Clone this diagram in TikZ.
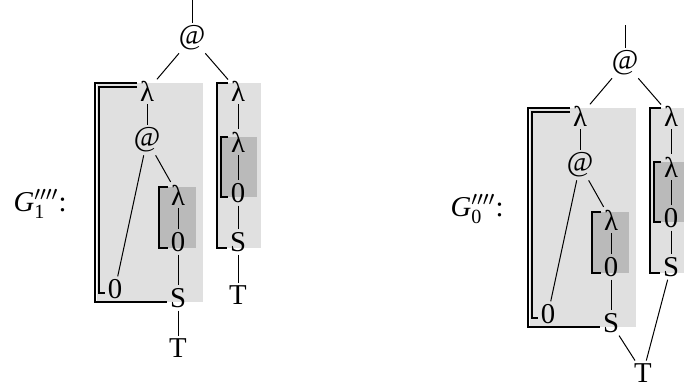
\documentclass[tikz,border=0pt]{standalone}
\usepackage{amsmath}
\usepackage{fontspec}
\setmainfont{Liberation Serif}
\usepackage{tikz}

\tikzset{
  sym/.style={inner sep=1pt,font=\fontsize{11.5}{13}\selectfont},
  lab/.style={anchor=base west,inner sep=0pt,font=\fontsize{11.5}{13}\selectfont},
  edge/.style={line width=0.4pt},
  bind/.style={line width=0.5pt},
  lightbox/.style={fill=black!12},
  darkbox/.style={fill=black!27}
}

\begin{document}
\begin{tikzpicture}[x=0.4pt,y=-0.4pt]
  \useasboundingbox (0,0) rectangle (684,387);

  % Labels
  \node[lab] (gone) at (13,211) {\textit{G}${}^{\prime\prime\prime\prime}_{\text{1}}$:};
  \node[lab] (gzero) at (450,216) {\textit{G}${}^{\prime\prime\prime\prime}_{\text{0}}$:};

  % Graph G1
  % Scopes
  \fill[lightbox] (97,83) rectangle (203,302);
  \fill[lightbox] (217,83) rectangle (261,248);
  \fill[darkbox] (159,187) rectangle (196,248);
  \fill[darkbox] (221,137) rectangle (257,197);

  % Nodes
  \coordinate (root) at (192,0);
  \node[sym] (app) at (192,38) {@};
  \node[sym] (lamA) at (147,91) {λ};
  \node[sym] (lamB) at (238,91) {λ};
  \node[sym] (app2) at (147,140) {@};
  \node[sym] (lamC) at (178,195) {λ};
  \node[sym] (zeroC) at (178,242) {0};
  \node[sym] (sucC) at (178,298) {S};
  \node[sym] (topC) at (178,348) {T};
  \node[sym] (zeroA) at (115,289) {0};
  \node[sym] (lamD) at (238,142) {λ};
  \node[sym] (zeroD) at (238,193) {0};
  \node[sym] (sucD) at (238,242) {S};
  \node[sym] (topD) at (238,295) {T};

  % Edges
  \draw[edge] (root) -- (app);
  \draw[edge] (app) -- (lamA);
  \draw[edge] (app) -- (lamB);
  \draw[edge] (lamA) -- (app2);
  \draw[edge] (app2) -- (zeroA);
  \draw[edge] (app2) -- (lamC);
  \draw[edge] (lamC) -- (zeroC);
  \draw[edge] (zeroC) -- (sucC);
  \draw[edge] (sucC) -- (topC);
  \draw[edge] (lamB) -- (lamD);
  \draw[edge] (lamD) -- (zeroD);
  \draw[edge] (zeroD) -- (sucD);
  \draw[edge] (sucD) -- (topD);

  % Binders
  \draw[bind] (lamA.west |- 0,83) -| (95,302) -- (sucC.west |- 0,302);
  \draw[bind] (lamA.west |- 0,87) -| (99,293) -- (zeroA.west |- 0,293);
  \draw[bind] (lamB.west |- 0,83) -| (217,248) -- (sucD.west |- 0,248);
  \draw[bind] (lamC.west |- 0,187) -| (159,248) -- (zeroC.west |- 0,248);
  \draw[bind] (lamD.west |- 0,137) -| (221,197) -- (zeroD.west |- 0,197);

  % Graph G0
  \begin{scope}[shift={(433,25)}]
    % Scopes
    \fill[lightbox] (97,83) rectangle (203,302);
    \fill[lightbox] (217,83) rectangle (261,248);
    \fill[darkbox] (159,187) rectangle (196,248);
    \fill[darkbox] (221,137) rectangle (257,197);

    % Nodes
    \coordinate (rootR) at (192,0);
    \node[sym] (appR) at (192,38) {@};
    \node[sym] (lamAR) at (147,91) {λ};
    \node[sym] (lamBR) at (238,91) {λ};
    \node[sym] (app2R) at (147,140) {@};
    \node[sym] (lamCR) at (178,195) {λ};
    \node[sym] (zeroCR) at (178,242) {0};
    \node[sym] (sucCR) at (178,298) {S};
    \node[sym] (zeroAR) at (115,289) {0};
    \node[sym] (lamDR) at (238,142) {λ};
    \node[sym] (zeroDR) at (238,193) {0};
    \node[sym] (sucDR) at (238,242) {S};
    \node[sym] (topR) at (210,348) {T};

    % Edges
    \draw[edge] (rootR) -- (appR);
    \draw[edge] (appR) -- (lamAR);
    \draw[edge] (appR) -- (lamBR);
    \draw[edge] (lamAR) -- (app2R);
    \draw[edge] (app2R) -- (zeroAR);
    \draw[edge] (app2R) -- (lamCR);
    \draw[edge] (lamCR) -- (zeroCR);
    \draw[edge] (zeroCR) -- (sucCR);
    \draw[edge] (sucCR) -- (topR);
    \draw[edge] (lamBR) -- (lamDR);
    \draw[edge] (lamDR) -- (zeroDR);
    \draw[edge] (zeroDR) -- (sucDR);
    \draw[edge] (sucDR) -- (topR);

    % Binders
    \draw[bind] (lamAR.west |- 0,83) -| (95,302) -- (sucCR.west |- 0,302);
    \draw[bind] (lamAR.west |- 0,87) -| (99,293) -- (zeroAR.west |- 0,293);
    \draw[bind] (lamBR.west |- 0,83) -| (217,248) -- (sucDR.west |- 0,248);
    \draw[bind] (lamCR.west |- 0,187) -| (159,248) -- (zeroCR.west |- 0,248);
    \draw[bind] (lamDR.west |- 0,137) -| (221,197) -- (zeroDR.west |- 0,197);
  \end{scope}
\end{tikzpicture}
\end{document}
